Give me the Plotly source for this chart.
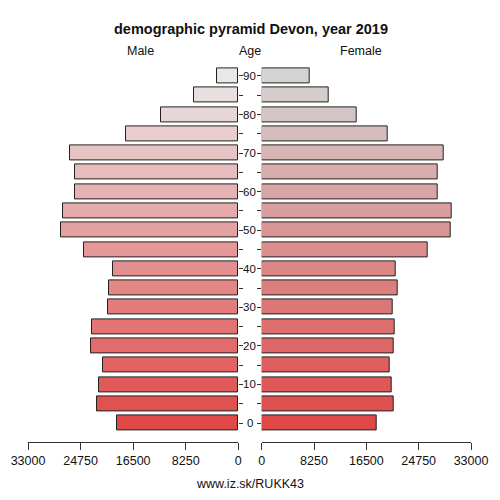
import plotly.graph_objects as go
from plotly.subplots import make_subplots

ages = [0, 5, 10, 15, 20, 25, 30, 35, 40, 45, 50, 55, 60, 65, 70, 75, 80, 85, 90]
male = [19080, 22230, 21810, 21290, 23180, 22960, 20440, 20280, 19710, 24280,
        27750, 27530, 25640, 25640, 26430, 17600, 12140, 6940, 3360]
female = [18140, 20870, 20500, 20190, 20770, 20930, 20660, 21450, 21080, 26130,
          29800, 29910, 27750, 27810, 28750, 19870, 14980, 10570, 7620]
x_ticks = [0, 8250, 16500, 24750, 33000]
age_labels = [str(a) if a % 10 == 0 else "" for a in ages]

W = H = 500
OFF = 8  # the page body adds an 8px margin around the figure


def px_x(px):
    return (px - OFF) / W


def px_y(py):
    return 1 - (py - OFF) / H


def blend(c0, c1, t):
    r, g, b = [round(a + (b - a) * t) for a, b in zip(c0, c1)]
    return f"rgb({r},{g},{b})"


n = len(ages)
male_colors = [blend((224, 72, 72), (232, 232, 232), i / (n - 1)) for i in range(n)]
female_colors = [blend((224, 72, 72), (212, 212, 212), i / (n - 1)) for i in range(n)]

font = "Liberation Sans, Arial, sans-serif"

fig = make_subplots(rows=1, cols=2)

fig.add_trace(go.Bar(x=male, y=ages, orientation="h", width=3.9,
                     marker=dict(color=male_colors, line=dict(color="#222", width=1))),
              row=1, col=1)
fig.add_trace(go.Bar(x=female, y=ages, orientation="h", width=3.9,
                     marker=dict(color=female_colors, line=dict(color="#222", width=1))),
              row=1, col=2)

ydom = [px_y(442.3), px_y(64.4)]
yrange = [-5, 93]
xcommon = dict(tickvals=x_ticks, ticktext=[str(v) for v in x_ticks], ticks="outside",
               ticklen=7, tickcolor="#333", automargin=False,
               showline=True, linecolor="#333", linewidth=1, showgrid=False,
               zeroline=False, tickfont=dict(size=12.5, color="#111"))

fig.update_layout(
    width=W, height=H,
    margin=dict(l=0, r=0, t=0, b=0),
    plot_bgcolor="white", paper_bgcolor="white",
    showlegend=False, bargap=0,
    font=dict(family=font, color="#111"),
    xaxis=dict(domain=[px_x(28), px_x(238.3)], range=[33000, 0], **xcommon),
    xaxis2=dict(domain=[px_x(261.7), px_x(471)], range=[0, 33000], **xcommon),
    yaxis=dict(domain=ydom, range=yrange, tickvals=ages, ticks="outside",
               side="right", ticklen=4, tickcolor="#333", showticklabels=False,
               showgrid=False, zeroline=False, showline=False, automargin=False),
    yaxis2=dict(domain=ydom, range=yrange, tickvals=ages, ticks="outside",
                ticklen=4, tickcolor="#333", showticklabels=False, automargin=False,
                showgrid=False, zeroline=False, showline=False),
)

# age labels in the gap between the two halves
for a, lab in zip(ages, age_labels):
    if lab:
        fig.add_annotation(text=lab, x=px_x(249.5), xref="paper", y=a, yref="y",
                           xanchor="center", yanchor="middle", showarrow=False,
                           font=dict(size=11.5, color="#111"))

fig.add_annotation(text="<b>demographic pyramid Devon, year 2019</b>", x=px_x(251),
                   y=px_y(29), xref="paper", yref="paper", xanchor="center",
                   yanchor="middle", showarrow=False, font=dict(size=14.5))
for txt, xp in [("Male", 140), ("Age", 250), ("Female", 361)]:
    fig.add_annotation(text=txt, x=px_x(xp), y=px_y(51.5), xref="paper", yref="paper",
                       xanchor="center", yanchor="middle", showarrow=False,
                       font=dict(size=12.5))
fig.add_annotation(text="www.iz.sk/RUKK43", x=px_x(250), y=px_y(484), xref="paper",
                   yref="paper", xanchor="center", yanchor="middle", showarrow=False,
                   font=dict(size=12.5))

fig.write_html("out.html")
